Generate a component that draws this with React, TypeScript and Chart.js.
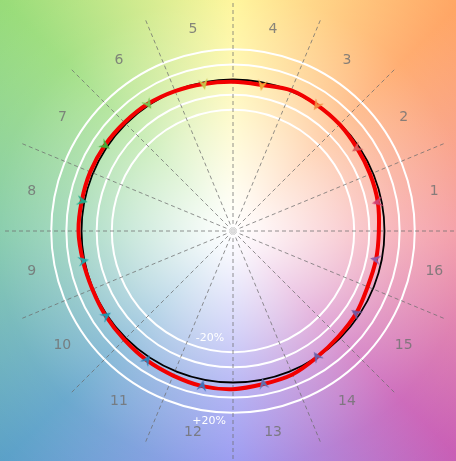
import React, { useEffect, useRef } from 'react';
import { Chart, registerables } from 'chart.js';
Chart.register(...registerables);

// Sector numbers, counter-clockwise, starting at sector 1 (11.25° above the right horizontal)
const sectorNumbers = ['1', '2', '3', '4', '5', '6', '7', '8', '9', '10', '11', '12', '13', '14', '15', '16'];
// Measured curve (100 = reference circle), counter-clockwise every 11.25°, starting at sector 1;
// even entries are sector centres (markers), odd entries are sector borders
const measuredCurve = [
  97.5, 98, 98.5, 99.5, 100, 100.5, 98.3, 98.5,
  99, 100, 101, 101.3, 101.8, 102, 101.8, 102,
  101, 100.5, 101, 101.5, 102.6, 103.3, 104.4, 104.4,
  103, 102.5, 100, 98.5, 97.8, 96.2, 96.3, 96.3,
];
// Marker colours for sectors 1..16
const markerColors = [
  '#d04070', '#d85a5a', '#f08a40', '#f0a838', '#c8c048', '#78c050', '#40b038', '#20a888',
  '#20a8a8', '#2098b0', '#3080b8', '#4070b8', '#6070b0', '#6860a8', '#7058a0', '#9058a8',
];
const ringValues = [80, 90, 100, 110, 120];
const ringTexts = ['-20%', '+20%'];
const scaleMax = 152.5;
const numberRadius = 135.5;

const N = measuredCurve.length; // 32
const toChart = (i: number) => (N - i) % N; // chart index -> ccw index
const chartLabels = Array.from({ length: N }, (_, i) => {
  const m = toChart(i);
  return m % 2 === 0 ? sectorNumbers[m / 2] : '';
});
const chartData = Array.from({ length: N }, (_, i) => measuredCurve[toChart(i)]);

function makeArrow(color: string) {
  const c = document.createElement('canvas');
  c.width = 13;
  c.height = 13;
  const g = c.getContext('2d')!;
  g.fillStyle = color;
  g.beginPath();
  g.moveTo(6.5, 0.5);
  g.lineTo(11.5, 11.5);
  g.lineTo(6.5, 7.5);
  g.lineTo(1.5, 11.5);
  g.closePath();
  g.fill();
  return c;
}

const bgPlugin = {
  id: 'bgWheel',
  beforeDraw(chart: any) {
    const { ctx, width, height } = chart;
    const s = chart.scales.r;
    const cx = s.xCenter, cy = s.yCenter;
    ctx.save();
    const g = ctx.createConicGradient(0, cx, cy);
    const stops: [number, string][] = [
      [0, '#f3929c'], [0.125, '#c85cb4'], [0.25, '#9090f0'], [0.375, '#5aa0c8'],
      [0.5, '#7cc8a4'], [0.625, '#98dc78'], [0.75, '#fff590'], [0.875, '#ffa462'], [1, '#f3929c'],
    ];
    stops.forEach(([o, c]) => g.addColorStop(o, c));
    ctx.fillStyle = g;
    ctx.fillRect(0, 0, width, height);
    const rg = ctx.createRadialGradient(cx, cy, 0, cx, cy, 330);
    rg.addColorStop(0, 'rgba(255,255,255,1)');
    rg.addColorStop(0.08, 'rgba(255,255,255,0.92)');
    rg.addColorStop(0.3, 'rgba(255,255,255,0.62)');
    rg.addColorStop(0.5, 'rgba(255,255,255,0.32)');
    rg.addColorStop(0.72, 'rgba(255,255,255,0.1)');
    rg.addColorStop(1, 'rgba(255,255,255,0)');
    ctx.fillStyle = rg;
    ctx.fillRect(0, 0, width, height);
    ctx.restore();
  },
  beforeDatasetsDraw(chart: any) {
    const { ctx } = chart;
    const s = chart.scales.r;
    ctx.save();
    const rg = ctx.createRadialGradient(s.xCenter, s.yCenter, 0, s.xCenter, s.yCenter, 9);
    rg.addColorStop(0, 'rgba(255,255,255,0.85)');
    rg.addColorStop(1, 'rgba(255,255,255,0)');
    ctx.fillStyle = rg;
    ctx.fillRect(s.xCenter - 10, s.yCenter - 10, 20, 20);
    ctx.restore();
  },
  afterDraw(chart: any) {
    const { ctx } = chart;
    const s = chart.scales.r;
    ctx.save();
    ctx.font = '14px "DejaVu Sans", Verdana, sans-serif';
    ctx.fillStyle = 'rgba(115,115,115,0.85)';
    ctx.textAlign = 'center';
    ctx.textBaseline = 'middle';
    chart.data.labels.forEach((lab: string, i: number) => {
      if (!lab) return;
      const p = s.getPointPositionForValue(i, numberRadius);
      ctx.fillText(lab, p.x, p.y);
    });
    ctx.font = '11px "DejaVu Sans", Verdana, sans-serif';
    ctx.fillStyle = '#ffffff';
    const dIn = s.getDistanceFromCenterForValue(ringValues[0]);
    const dOut = s.getDistanceFromCenterForValue(ringValues[ringValues.length - 1]);
    ctx.fillText(ringTexts[0], s.xCenter - 23, s.yCenter + dIn - 14);
    ctx.fillText(ringTexts[1], s.xCenter - 24, s.yCenter + dOut + 8);
    ctx.restore();
  },
};

export default function App() {
  const ref = useRef<HTMLCanvasElement>(null);
  useEffect(() => {
    const arrows = markerColors.map(makeArrow);
    const chart = new Chart(ref.current!, {
      type: 'radar',
      data: {
        labels: chartLabels,
        datasets: [
          {
            data: chartData,
            borderColor: '#f20000',
            borderWidth: 4,
            backgroundColor: 'transparent',
            fill: false,
            tension: 0.35,
            pointRadius: (c: any) => (c.dataIndex % 2 === 0 ? 5 : 0),
            pointStyle: (c: any) => {
              const m = toChart(c.dataIndex);
              return m % 2 === 0 ? arrows[m / 2] : 'circle';
            },
            rotation: (c: any) => {
              const m = toChart(c.dataIndex);
              const theta = 11.25 + 11.25 * m;
              return -90 - theta;
            },
            pointBorderWidth: 0,
          } as any,
        ],
      },
      options: {
        responsive: false,
        animation: false,
        devicePixelRatio: 1,
        layout: { padding: 0 },
        plugins: { legend: { display: false }, tooltip: { enabled: false } },
        scales: {
          r: {
            min: 0,
            max: scaleMax,
            startAngle: 78.75,
            ticks: { display: false },
            pointLabels: { display: false },
            afterBuildTicks: (scale: any) => {
              scale.ticks = [0, ...ringValues].map((v) => ({ value: v }));
            },
            grid: {
              circular: true,
              color: (c: any) => (c.tick && c.tick.value === 100 ? '#000000' : '#ffffff'),
              lineWidth: (c: any) => (c.tick && c.tick.value === 100 ? 1.8 : 2),
            },
            angleLines: {
              display: true,
              color: 'rgba(110,110,110,0.75)',
              lineWidth: (c: any) => (c.index % 2 === 1 ? 1 : 0),
              borderDash: [4, 3],
            },
          } as any,
        },
      },
      plugins: [bgPlugin],
    });
    return () => chart.destroy();
  }, []);
  return (
    <div style={{ position: 'fixed', left: 0, top: 0, width: 456, height: 461, overflow: 'hidden' }}>
      <canvas ref={ref} width={466} height={462} style={{ display: 'block' }} />
    </div>
  );
}
